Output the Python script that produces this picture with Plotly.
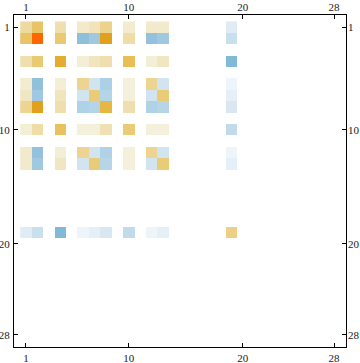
import plotly.graph_objects as go

n = 28
active = [1, 2, 4, 6, 7, 8, 10, 12, 13, 19]
block = [
    [0.27, 0.47, 0.22, 0.12, 0.18, 0.35, 0.10, 0.12, 0.12, -0.13],
    [0.47, 1.00, 0.43, -0.62, -0.50, 0.75, 0.25, -0.58, -0.50, -0.26],
    [0.22, 0.43, 0.65, 0.08, 0.16, 0.22, 0.52, 0.08, 0.15, -0.80],
    [0.10, -0.60, 0.08, 0.33, -0.20, -0.42, 0.06, 0.33, -0.20, -0.05],
    [0.15, -0.50, 0.16, -0.20, 0.42, -0.37, 0.06, -0.20, 0.42, -0.10],
    [0.33, 0.75, 0.22, -0.40, -0.37, 0.58, 0.22, -0.40, -0.36, -0.17],
    [0.08, 0.25, 0.50, 0.06, 0.06, 0.20, 0.42, 0.06, 0.06, -0.30],
    [0.12, -0.58, 0.08, 0.33, -0.20, -0.40, 0.06, 0.33, -0.20, -0.05],
    [0.12, -0.50, 0.15, -0.20, 0.42, -0.36, 0.06, -0.20, 0.42, -0.10],
    [-0.13, -0.26, -0.80, -0.05, -0.10, -0.17, -0.30, -0.05, -0.10, 0.37],
]
tick_vals = [1, 10, 20, 28]

z = [[0.0] * n for _ in range(n)]
for i, r in enumerate(active):
    for j, c in enumerate(active):
        z[r - 1][c - 1] = block[i][j]

colorscale = [
    [0.0, "rgb(95,160,205)"],
    [0.1, "rgb(130,185,215)"],
    [0.2, "rgb(145,192,220)"],
    [0.3, "rgb(175,210,230)"],
    [0.4, "rgb(210,228,240)"],
    [0.475, "rgb(238,245,250)"],
    [0.5, "rgb(255,255,255)"],
    [0.525, "rgb(244,241,222)"],
    [0.6, "rgb(240,225,180)"],
    [0.7, "rgb(235,205,125)"],
    [0.8, "rgb(230,180,60)"],
    [0.875, "rgb(225,160,30)"],
    [1.0, "rgb(255,102,0)"],
]

idx = list(range(1, n + 1))
fig = go.Figure()
fig.add_trace(go.Heatmap(z=z, x=idx, y=idx, colorscale=colorscale, zmin=-1, zmax=1,
                         showscale=False, hoverinfo="skip"))
fig.add_trace(go.Scatter(x=[None], y=[None], xaxis="x2", yaxis="y2", showlegend=False))

font = dict(family="Liberation Serif", size=11, color="#222")
xr = [-0.045, 29.045]
yr = [29.07, -0.07]
common = dict(tickmode="array", tickvals=tick_vals, ticktext=[str(t) for t in tick_vals],
              ticks="inside", ticklen=4, tickwidth=1, tickcolor="black",
              showgrid=False, zeroline=False, tickfont=font, automargin=False,
              ticklabelstandoff=1)
fig.update_layout(
    width=360, height=363,
    margin=dict(l=14, r=14, t=15, b=16),
    paper_bgcolor="white", plot_bgcolor="white",
    xaxis=dict(range=xr, side="bottom", showline=True, mirror=True, linecolor="black",
               linewidth=1, **common),
    yaxis=dict(range=yr, side="left", showline=True, mirror=True, linecolor="black",
               linewidth=1, **common),
    xaxis2=dict(range=xr, overlaying="x", side="top", anchor="y", showline=False, **common),
    yaxis2=dict(range=yr, overlaying="y", side="right", anchor="x", showline=False, **common),
)
fig.write_html("out.html", config={"displayModeBar": False})

with open("out.html", encoding="utf-8") as f:
    html = f.read()
html = html.replace("<body>", '<body style="margin:0;padding:0;overflow:hidden">', 1)
with open("out.html", "w", encoding="utf-8") as f:
    f.write(html)
